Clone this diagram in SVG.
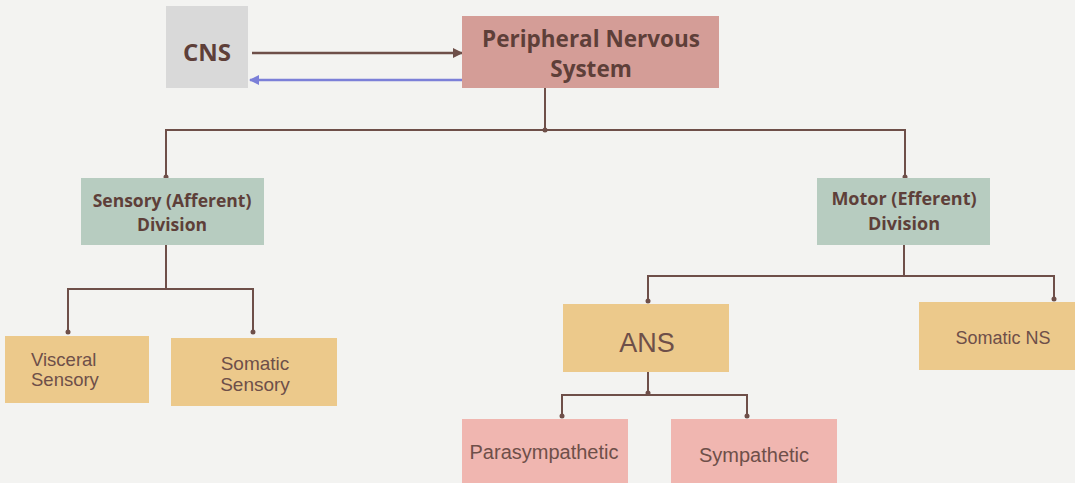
<svg xmlns="http://www.w3.org/2000/svg" width="1075" height="483" viewBox="0 0 1075 483">
<defs>
<style>
.bold{font-family:"Open Sans","Liberation Sans",sans-serif;font-weight:700;fill:#5e3f39;text-anchor:middle}
.reg{font-family:"Liberation Sans",Arial,sans-serif;font-weight:400;fill:#6e4f49;text-anchor:middle}
.ln{fill:none;stroke:#6e4f49;stroke-width:2}
.dot{fill:#6e4f49}
.yel{fill:#ecc98b}
.pink{fill:#f0b6b0}
.green{fill:#b7ccc0}
</style>
<marker id="ahB" markerWidth="10" markerHeight="10" refX="9" refY="5" orient="auto" markerUnits="userSpaceOnUse"><path d="M0,0 L10,5 L0,10 Z" fill="#6e4f49"/></marker>
<marker id="ahBl" markerWidth="10" markerHeight="10" refX="9" refY="5" orient="auto" markerUnits="userSpaceOnUse"><path d="M0,0 L10,5 L0,10 Z" fill="#7b7fd8"/></marker>
</defs>
<rect x="0" y="0" width="1075" height="483" fill="#f3f3f1"/>
<g id="connectors">
<line x1="252" y1="53" x2="462" y2="53" stroke="#6e4f49" stroke-width="2.5" marker-end="url(#ahB)"/>
<line x1="462" y1="80" x2="250" y2="80" stroke="#7b7fd8" stroke-width="2.5" marker-end="url(#ahBl)"/>
<path class="ln" d="M545,88 V130 M166,178 V130 H905 V178"/>
<circle class="dot" cx="545" cy="130" r="2.5"/><circle class="dot" cx="166" cy="177" r="2.5"/><circle class="dot" cx="905" cy="177" r="2.5"/>
<path class="ln" d="M166,245 V289 M68,333 V289 H253 V333"/>
<circle class="dot" cx="68" cy="332" r="2.5"/><circle class="dot" cx="253" cy="332" r="2.5"/>
<path class="ln" d="M904,245 V276 M648,301 V276 H1054 V300"/>
<circle class="dot" cx="648" cy="301" r="2.5"/><circle class="dot" cx="1054" cy="299" r="2.5"/>
<path class="ln" d="M648,372 V395 M562,416 V395 H747 V416"/>
<circle class="dot" cx="648" cy="393" r="2.5"/><circle class="dot" cx="562" cy="416" r="2.5"/><circle class="dot" cx="747" cy="416" r="2.5"/>
</g>
<g id="cns"><rect x="166" y="6" width="82" height="82" fill="#d9d9d9"/><text class="bold" x="207" y="61" font-size="24">CNS</text></g>
<g id="pns"><rect x="462" y="16" width="257" height="72" fill="#d49d97"/><text class="bold" x="591" y="47" font-size="22.5">Peripheral Nervous</text><text class="bold" x="591" y="77" font-size="22.5">System</text></g>
<g id="sensory"><rect class="green" x="81" y="178" width="183" height="67"/><text class="bold" x="172" y="207" font-size="17.5">Sensory (Afferent)</text><text class="bold" x="172" y="231" font-size="17.5">Division</text></g>
<g id="motor"><rect class="green" x="817" y="178" width="173" height="67"/><text class="bold" x="904" y="205" font-size="18">Motor (Efferent)</text><text class="bold" x="904" y="230" font-size="18">Division</text></g>
<g id="visceral"><rect class="yel" x="5" y="336" width="144" height="67"/><text class="reg" x="31" y="366" font-size="18.5" style="text-anchor:start">Visceral</text><text class="reg" x="31" y="386" font-size="18.5" style="text-anchor:start">Sensory</text></g>
<g id="somatic-sensory"><rect class="yel" x="171" y="338" width="166" height="68"/><text class="reg" x="255" y="370" font-size="19">Somatic</text><text class="reg" x="255" y="391" font-size="19">Sensory</text></g>
<g id="ans"><rect class="yel" x="563" y="304" width="166" height="68"/><text class="reg" x="647" y="352" font-size="27">ANS</text></g>
<g id="somatic-ns"><rect class="yel" x="919" y="302" width="156" height="68"/><text class="reg" x="1003" y="344" font-size="18">Somatic NS</text></g>
<g id="parasympathetic"><rect class="pink" x="462" y="419" width="166" height="64"/><text class="reg" x="544" y="459" font-size="20">Parasympathetic</text></g>
<g id="sympathetic"><rect class="pink" x="671" y="419" width="166" height="64"/><text class="reg" x="754" y="462" font-size="20">Sympathetic</text></g>
</svg>
